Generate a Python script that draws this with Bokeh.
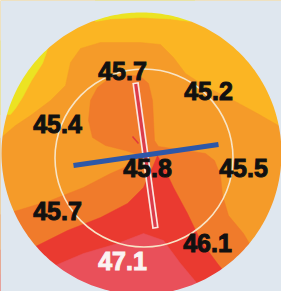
import numpy as np
from bokeh.plotting import figure
from bokeh.models import Range1d, ColumnDataSource
from bokeh.embed import file_html
from bokeh.resources import INLINE
from bokeh.core.properties import value

# ---- data -------------------------------------------------------------
temps = ["45.7", "45.2", "45.4", "45.8", "45.5", "45.7", "46.1", "47.1"]
sensor_x = [122, 208, 57, 147, 243, 57, 207, 122]
sensor_y = [70, 90, 123, 167, 167, 210, 242, 260]
label_colors = ["#111111"] * 7 + ["#fbf3f3"]

# contour band outlines (image coordinates, y downward)
band_yellow_top_x = [95, 195, 190, 170, 141, 110, 95]
band_yellow_top_y = [-5, -5, 21, 18.5, 17, 18.5, 21]
band_yellow_left_x = [48, 46, 42, 31, 22, 15, 10, -5, -5]
band_yellow_left_y = [44, 52, 63, 80, 97, 108, 114, 114, 40]

band_mid_x = [-5, 15, 30, 50, 65, 70, 80, 100, 140, 160, 173, 185, 205, 233, 257, 290, 290, -5]
band_mid_y = [142, 125, 115, 100, 85, 62, 48, 42, 42, 44, 57, 73, 86, 100, 113, 132, 300, 300]

band_dark_x = [-5, 7, 50, 83, 110, 133, 140, 125, 105, 92, 88, 90, 97, 110, 125, 140, 148, 152,
               153, 154, 158, 185, 205, 214, 220, 222, 228, 243, 253, 270, 290, 290, -5]
band_dark_y = [215, 213, 200, 187, 173, 163, 155, 150, 145, 137, 120, 100, 87, 77, 74, 76, 83, 100,
               120, 140, 146, 150, 153, 160, 175, 195, 215, 233, 250, 265, 280, 300, 300]

band_red_x = [-5, 33, 67, 100, 127, 143, 152, 157, 165, 173, 187, 200, 217, 233, 240, -5]
band_red_y = [250, 247, 230, 217, 203, 187, 167, 155, 170, 187, 213, 240, 263, 283, 300, 300]

band_pink_x = [-5, 50, 83, 117, 143, 163, 180, 200, 205, -5]
band_pink_y = [275, 267, 253, 243, 233, 240, 263, 287, 300, 300]

red_probe_x = [135, 155]
red_probe_y = [82, 228]
tip_x = [132, 138]
tip_y = [136, 143]
blue_probe_x = [73, 218]
blue_probe_y = [165, 144]

ring_cx, ring_cy, ring_r = 143.5, 157.5, 89
disk_cx, disk_cy, disk_a, disk_b = 141, 153, 140, 141

BG = "#dfe7ef"
C_GOLD = "#fbb523"
C_YEL = "#ece322"
C_MID = "#f59b29"
C_DARK = "#f07b2b"
C_RED = "#ea3a30"
C_PINK = "#e9505a"

p = figure(width=281, height=291, x_range=Range1d(0, 281), y_range=Range1d(291, 0),
           output_backend="svg", toolbar_location=None, min_border=0,
           x_axis_location=None, y_axis_location=None)
p.grid.visible = False
p.outline_line_color = None
p.background_fill_color = C_GOLD
p.border_fill_color = BG

for xs, ys, c in [(band_yellow_top_x, band_yellow_top_y, C_YEL),
                  (band_yellow_left_x, band_yellow_left_y, C_YEL),
                  (band_mid_x, band_mid_y, C_MID),
                  (band_dark_x, band_dark_y, C_DARK),
                  (band_red_x, band_red_y, C_RED),
                  (band_pink_x, band_pink_y, C_PINK)]:
    p.patch(xs, ys, fill_color=c, line_color=c, line_width=0.5)

# mask outside the disk
t = np.linspace(0, 2 * np.pi, 361)
hx = disk_cx + disk_a * np.cos(t)
hy = disk_cy + disk_b * np.sin(t)
ox = [-60, 360, 360, -60]
oy = [-60, -60, 360, 360]
p.multi_polygons(xs=[[[ox, list(hx[::-1])]]], ys=[[[oy, list(hy[::-1])]]],
                 fill_color=BG, line_color=None)

# inner ring
p.circle(x=[ring_cx], y=[ring_cy], radius=ring_r, fill_color=None,
         line_color="#f7e4c6", line_width=1.6)

# red probe
rx = np.array(red_probe_x, float)
ry = np.array(red_probe_y, float)
d = np.array([rx[1] - rx[0], ry[1] - ry[0]])
u = d / np.hypot(*d)
p.segment(x0=[tip_x[0]], y0=[tip_y[0]], x1=[tip_x[1]], y1=[tip_y[1]],
          line_color="#e23a3a", line_width=1.5)
p.segment(x0=[rx[0]], y0=[ry[0]], x1=[rx[1]], y1=[ry[1]], line_color="#fbe6e0", line_width=6.5)
p.segment(x0=[rx[0] + 1.5 * u[0]], y0=[ry[0] + 1.5 * u[1]],
          x1=[rx[1] - 1.5 * u[0]], y1=[ry[1] - 1.5 * u[1]],
          line_color="#dc3c4a", line_width=3.2)

# blue probe
p.segment(x0=[blue_probe_x[0]], y0=[blue_probe_y[0]], x1=[blue_probe_x[1]], y1=[blue_probe_y[1]],
          line_color="#2d57a8", line_width=5)

src = ColumnDataSource(dict(x=sensor_x, y=sensor_y, t=temps, c=label_colors))
p.text(x="x", y="y", text="t", text_color="c", source=src,
       text_outline_color="c",
       text_font=value("Liberation Sans"), text_font_style="bold",
       text_font_size="25px", text_align="center", text_baseline="alphabetic")

open("out.html", "w").write(file_html(p, INLINE))
